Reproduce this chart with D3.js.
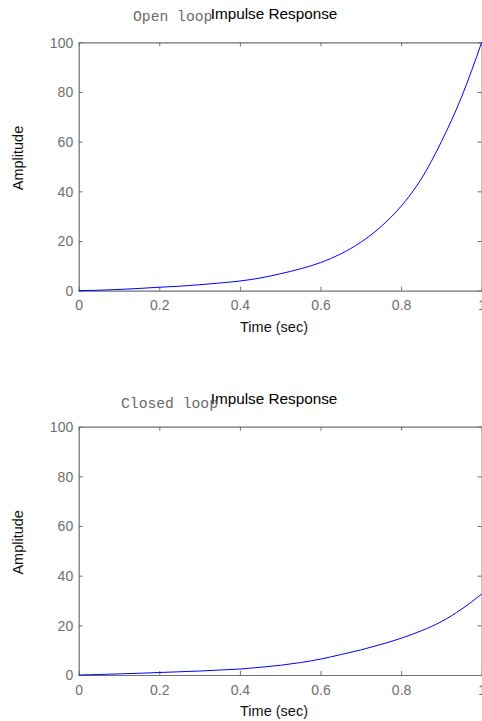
<!DOCTYPE html>
<html>
<head>
<meta charset="utf-8">
<script src="https://cdn.jsdelivr.net/npm/d3@7"></script>
<style>
  html, body { margin: 0; padding: 0; background: #fff; }
  svg { display: block; }
  .tick-label { font-family: "Liberation Sans", Arial, sans-serif; font-size: 14px; fill: #6e6e6e; }
  .axis-title { font-family: "Liberation Sans", Arial, sans-serif; font-size: 14.5px; fill: #111; }
  .plot-title { font-family: "Liberation Sans", Arial, sans-serif; font-size: 15.3px; fill: #000; }
  .note { font-family: "Liberation Mono", "Courier New", monospace; font-size: 14.7px; fill: #6a6a6a; }
</style>
</head>
<body>
<svg id="chart" width="482" height="721"></svg>
<script>
// Impulse response samples (time in seconds, amplitude)
const timeSec = [0, 0.05, 0.1, 0.15, 0.2, 0.25, 0.3, 0.35, 0.4, 0.45, 0.5,
                 0.55, 0.6, 0.65, 0.7, 0.75, 0.8, 0.85, 0.9, 0.95, 1.0];
const openLoop = [0, 0.2, 0.5, 0.9, 1.4, 1.8, 2.4, 3.1, 3.9, 5.1, 6.8,
                  8.8, 11.3, 14.8, 19.5, 25.8, 34, 45, 60, 78, 100];
const closedLoop = [0, 0.2, 0.45, 0.7, 1.0, 1.3, 1.6, 2.0, 2.4, 3.1, 3.9,
                    5.0, 6.4, 8.2, 10.1, 12.3, 14.8, 17.8, 21.5, 26.5, 32.6];

const xTicks = [0, 0.2, 0.4, 0.6, 0.8, 1];
const xTickLabels = ["0", "0.2", "0.4", "0.6", "0.8", "1"];
const yTicks = [0, 20, 40, 60, 80, 100];
const yTickLabels = ["0", "20", "40", "60", "80", "100"];

const titleText = "Impulse Response";
const xLabelText = "Time (sec)";
const yLabelText = "Amplitude";
const panelNotes = ["Open loop", "Closed loop"];

const svg = d3.select("#chart");

const left = 78.7, right = 481.7;
const panels = [
  { top: 42.3, bottom: 290.7, values: openLoop, note: panelNotes[0], noteX: 133, noteY: 20.7, titleY: 19 },
  { top: 426.7, bottom: 675, values: closedLoop, note: panelNotes[1], noteX: 121, noteY: 408.3, titleY: 403.5 }
];

const x = d3.scaleLinear().domain([0, 1]).range([left, right]);
const labelCenter = 274;
const axisColor = "#707070";
const tickLen = 4;

panels.forEach(p => {
  const y = d3.scaleLinear().domain([0, 100]).range([p.bottom, p.top]);
  const g = svg.append("g");

  // bottom axis (ticks point inward)
  const bottomAxis = d3.axisBottom(x).tickValues(xTicks).tickSize(-tickLen)
    .tickFormat((d, i) => xTickLabels[i]).tickSizeOuter(0);
  const gb = g.append("g").attr("transform", `translate(0,${p.bottom})`).call(bottomAxis);
  gb.select(".domain").attr("stroke", axisColor).attr("stroke-width", 1.2);
  gb.selectAll(".tick line").attr("stroke", axisColor);
  gb.selectAll(".tick text").attr("class", "tick-label").attr("y", 19.5).attr("dy", 0);

  // top axis: ticks only
  const topAxis = d3.axisTop(x).tickValues(xTicks).tickSize(-tickLen).tickFormat("").tickSizeOuter(0);
  const gt = g.append("g").attr("transform", `translate(0,${p.top})`).call(topAxis);
  gt.select(".domain").attr("stroke", axisColor).attr("stroke-width", 1.2);
  gt.selectAll(".tick line").attr("stroke", axisColor);

  // left axis
  const leftAxis = d3.axisLeft(y).tickValues(yTicks).tickSize(-tickLen)
    .tickFormat((d, i) => yTickLabels[i]).tickSizeOuter(0);
  const gl = g.append("g").attr("transform", `translate(${left},0)`).call(leftAxis);
  gl.select(".domain").attr("stroke", axisColor).attr("stroke-width", 1.2);
  gl.selectAll(".tick line").attr("stroke", axisColor);
  gl.selectAll(".tick text").attr("class", "tick-label").attr("x", -5.5).attr("dy", "0.35em");

  // right axis: ticks only
  const rightAxis = d3.axisRight(y).tickValues(yTicks).tickSize(-tickLen).tickFormat("").tickSizeOuter(0);
  const gr = g.append("g").attr("transform", `translate(${right},0)`).call(rightAxis);
  gr.select(".domain").attr("stroke", axisColor).attr("stroke-width", 1.2);
  gr.selectAll(".tick line").attr("stroke", axisColor);

  g.selectAll(".tick text").attr("font-family", null).attr("font-size", null).attr("fill", null);

  // response curve
  const line = d3.line().x((d, i) => x(timeSec[i])).y(d => y(d)).curve(d3.curveMonotoneX);
  g.append("path")
    .datum(p.values)
    .attr("fill", "none")
    .attr("stroke", "#0000ff")
    .attr("stroke-width", 1)
    .attr("d", line);

  // titles and labels
  g.append("text").attr("class", "plot-title")
    .attr("x", labelCenter).attr("y", p.titleY).attr("text-anchor", "middle")
    .text(titleText);
  g.append("text").attr("class", "axis-title")
    .attr("x", labelCenter).attr("y", p.bottom + 41).attr("text-anchor", "middle")
    .text(xLabelText);
  const yc = (p.top + p.bottom) / 2 - 8.5;
  g.append("text").attr("class", "axis-title")
    .attr("transform", `translate(23,${yc}) rotate(-90)`).attr("text-anchor", "middle")
    .text(yLabelText);
  g.append("text").attr("class", "note")
    .attr("x", p.noteX).attr("y", p.noteY)
    .text(p.note);
});
</script>
</body>
</html>
